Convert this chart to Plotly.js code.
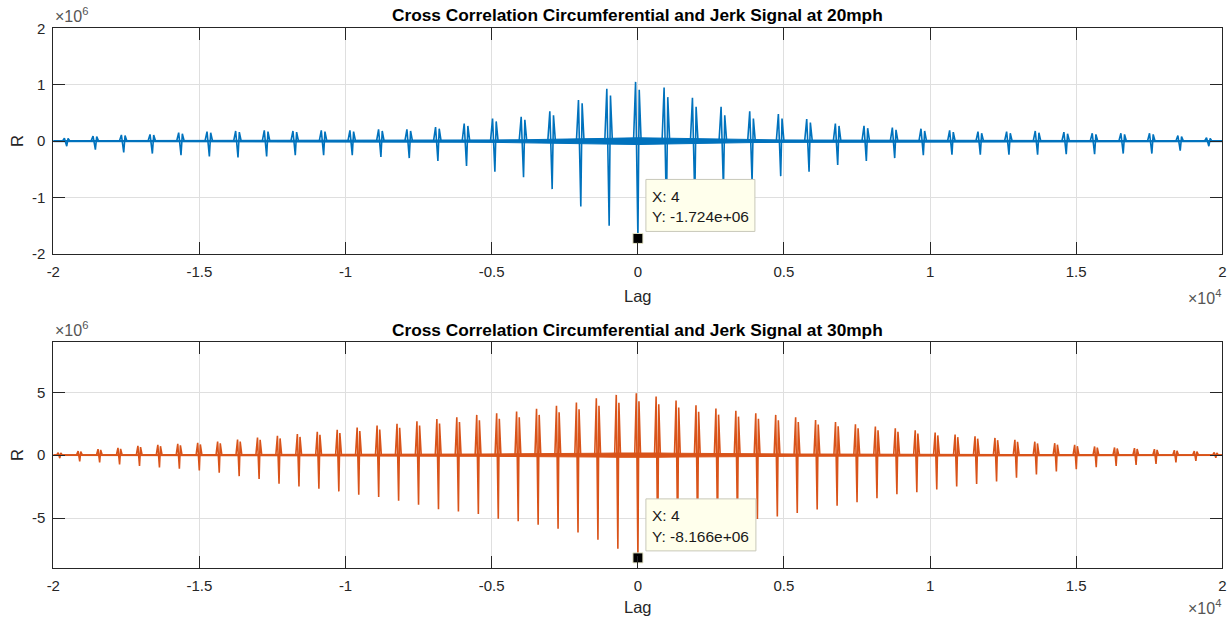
<!DOCTYPE html>
<html>
<head>
<meta charset="utf-8">
<script src="https://cdn.plot.ly/plotly-3.0.1.min.js"></script>
<style>html,body{margin:0;padding:0;background:#fff;}#chart{width:1230px;height:621px;}</style>
</head>
<body>
<div id="chart"></div>
<script>
// ---------- DATA (values in units of 1e6, lags in samples) ----------
const titles = ["Cross Correlation Circumferential and Jerk Signal at 20mph",
                "Cross Correlation Circumferential and Jerk Signal at 30mph"];
const xTickVals = [-20000,-15000,-10000,-5000,0,5000,10000,15000,20000];
const xTickText = ["-2","-1.5","-1","-0.5","0","0.5","1","1.5","2"];
const yTickValsTop = [-2e6,-1e6,0,1e6,2e6];
const yTickTextTop = ["-2","-1","0","1","2"];
const yTickValsBot = [-5e6,0,5e6];
const yTickTextBot = ["-5","0","5"];

// 20 mph: spike lags and peak values
const lags20 = [-19540,-18560,-17590,-16610,-15630,-14660,-13680,-12700,-11720,-10750,-9770,-8790,-7820,-6840,-5860,-4890,-3910,-2930,-1950,-980,
                4,980,1950,2930,3910,4890,5860,6840,7820,8790,9770,10750,11720,12700,13680,14660,15630,16610,17590,18560,19540];
const pos20 = [0.05,0.09,0.11,0.12,0.15,0.17,0.18,0.19,0.18,0.19,0.19,0.21,0.21,0.25,0.31,0.40,0.43,0.53,0.73,0.93,
               1.05,0.95,0.77,0.61,0.53,0.48,0.39,0.31,0.27,0.24,0.22,0.19,0.17,0.17,0.18,0.16,0.14,0.14,0.14,0.10,0.06];
const pos2_20 = [0.05,0.08,0.10,0.11,0.13,0.15,0.16,0.17,0.16,0.17,0.17,0.18,0.18,0.22,0.27,0.35,0.38,0.46,0.67,0.81,
                 0.91,0.78,0.61,0.46,0.40,0.40,0.33,0.27,0.23,0.20,0.18,0.16,0.14,0.14,0.15,0.13,0.12,0.12,0.12,0.08,0.05];
const neg20 = [-0.09,-0.15,-0.20,-0.22,-0.25,-0.27,-0.29,-0.27,-0.25,-0.25,-0.25,-0.28,-0.30,-0.35,-0.44,-0.54,-0.64,-0.85,-1.16,-1.50,
               -1.724,-1.30,-1.05,-0.85,-0.72,-0.62,-0.54,-0.42,-0.35,-0.30,-0.25,-0.24,-0.24,-0.24,-0.24,-0.23,-0.23,-0.22,-0.22,-0.17,-0.09];
const noise20 = [0.01,0.01,0.01,0.01,0.01,0.012,0.012,0.014,0.014,0.014,0.015,0.016,0.018,0.018,0.02,0.022,0.025,0.03,0.04,0.05,
                 0.06,0.05,0.04,0.03,0.025,0.022,0.02,0.018,0.018,0.016,0.015,0.014,0.014,0.014,0.012,0.012,0.01,0.01,0.01,0.01,0.01];

// 30 mph
const lags30 = [-19778,-19096,-18414,-17732,-17050,-16368,-15686,-15004,-14322,-13640,-12958,-12276,-11594,-10912,-10230,-9548,-8866,-8184,-7502,-6820,-6138,-5456,-4774,-4092,-3410,-2728,-2046,-1364,-682,
                4,682,1364,2046,2728,3410,4092,4774,5456,6138,6820,7502,8184,8866,9548,10230,10912,11594,12276,12958,13640,14322,15004,15686,16368,17050,17732,18414,19096,19778];
const pos30 = [0.20,0.32,0.48,0.58,0.74,0.82,0.90,0.98,1.08,1.24,1.40,1.53,1.67,1.85,2.01,2.20,2.35,2.49,2.70,2.88,3.02,3.20,3.33,3.47,3.68,3.92,4.18,4.52,4.79,
               4.92,4.66,4.34,3.97,3.70,3.52,3.33,3.20,3.02,2.80,2.64,2.45,2.28,2.14,1.98,1.80,1.64,1.50,1.37,1.22,1.07,0.95,0.82,0.69,0.61,0.56,0.48,0.40,0.32,0.21];
const pos2_30 = [0.17,0.28,0.42,0.50,0.64,0.71,0.78,0.85,0.94,1.08,1.22,1.33,1.45,1.61,1.75,1.91,2.04,2.17,2.35,2.51,2.63,2.78,2.90,3.02,3.20,3.41,3.64,3.93,4.17,
                 4.28,4.05,3.78,3.45,3.22,3.06,2.90,2.78,2.63,2.44,2.30,2.13,1.98,1.86,1.72,1.57,1.43,1.31,1.19,1.06,0.93,0.83,0.71,0.60,0.53,0.49,0.42,0.35,0.28,0.18];
const neg30 = [-0.24,-0.50,-0.58,-0.74,-0.85,-0.98,-1.08,-1.22,-1.40,-1.67,-1.90,-2.28,-2.49,-2.67,-2.88,-3.15,-3.33,-3.62,-3.94,-4.29,-4.47,-4.68,-5.05,-5.26,-5.53,-5.85,-6.14,-6.72,-7.43,
               -8.166,-7.3,-6.6,-6.1,-5.8,-5.45,-5.07,-4.87,-4.6,-4.32,-4.02,-3.75,-3.43,-3.11,-2.95,-2.72,-2.49,-2.30,-2.09,-1.80,-1.54,-1.30,-1.11,-0.95,-0.85,-0.77,-0.69,-0.58,-0.45,-0.21];
const noise30 = [0.03,0.03,0.03,0.035,0.035,0.04,0.04,0.045,0.045,0.05,0.05,0.05,0.06,0.06,0.06,0.07,0.07,0.07,0.08,0.08,0.09,0.09,0.1,0.1,0.11,0.12,0.13,0.15,0.17,
                 0.19,0.17,0.15,0.13,0.12,0.11,0.1,0.1,0.09,0.09,0.08,0.08,0.07,0.07,0.07,0.06,0.06,0.06,0.05,0.05,0.05,0.045,0.045,0.04,0.04,0.035,0.035,0.03,0.03,0.03];

// data tips
const tip20 = {x: 4, y: -1.724e6, lines: ["X: 4", "Y: -1.724e+06"]};
const tip30 = {x: 4, y: -8.166e6, lines: ["X: 4", "Y: -8.166e+06"]};

const UNIT = 1e6;
const LAG_MIN = -20000, LAG_MAX = 20000;

// ---------- build ----------
function spikeSeries(lags, pos, neg, pos2, off) {
  const x = [LAG_MIN], y = [0];
  for (let i = 0; i < lags.length; i++) {
    const L = lags[i];
    x.push(L + off.pre, L + off.p1, L, L + off.p2, L + off.post);
    y.push(0, pos[i] * UNIT, neg[i] * UNIT, pos2[i] * UNIT, 0);
  }
  x.push(LAG_MAX); y.push(0);
  return {x, y};
}
function noiseBand(lags, env) {
  const x = [LAG_MIN].concat(lags, [LAG_MAX]);
  const up = [env[0]].concat(env, [env[env.length - 1]]).map(v => v * UNIT);
  const xr = x.slice().reverse();
  const dn = up.slice().reverse().map(v => -v);
  return {x: x.concat(xr), y: up.concat(dn)};
}

const BLUE = '#0072BD', ORANGE = '#D95319';
const s20 = spikeSeries(lags20, pos20, neg20, pos2_20, {pre: -150, p1: -80, p2: 45, post: 110});
const s30 = spikeSeries(lags30, pos30, neg30, pos2_30, {pre: -110, p1: -55, p2: 35, post: 90});
const b20 = noiseBand(lags20, noise20);
const b30 = noiseBand(lags30, noise30);

const traces = [
  {type: 'scatter', mode: 'lines', x: b20.x, y: b20.y, fill: 'toself', fillcolor: BLUE,
   line: {color: BLUE, width: 1}, xaxis: 'x', yaxis: 'y', hoverinfo: 'skip', showlegend: false},
  {type: 'scatter', mode: 'lines', x: s20.x, y: s20.y, line: {color: BLUE, width: 1.6},
   xaxis: 'x', yaxis: 'y', showlegend: false},
  {type: 'scatter', mode: 'lines', x: b30.x, y: b30.y, fill: 'toself', fillcolor: ORANGE,
   line: {color: ORANGE, width: 1}, xaxis: 'x2', yaxis: 'y2', hoverinfo: 'skip', showlegend: false},
  {type: 'scatter', mode: 'lines', x: s30.x, y: s30.y, line: {color: ORANGE, width: 1.6},
   xaxis: 'x2', yaxis: 'y2', showlegend: false},
  {type: 'scatter', mode: 'markers', x: [tip20.x], y: [tip20.y], xaxis: 'x', yaxis: 'y',
   marker: {symbol: 'square', size: 10, color: '#000', line: {color: '#e8e8c8', width: 1}}, showlegend: false},
  {type: 'scatter', mode: 'markers', x: [tip30.x], y: [tip30.y], xaxis: 'x2', yaxis: 'y2',
   marker: {symbol: 'square', size: 10, color: '#000', line: {color: '#e8e8c8', width: 1}}, showlegend: false}
];

const W = 1230, H = 621;
const px = v => v / W, py = v => 1 - v / H;
const FONT = 'Liberation Sans, Arial, Helvetica, sans-serif';
const AX = '#262626', GRID = '#dfdfdf';
const TICKSIZE = 15;

function xAxis(anchor, dom) {
  return {domain: dom, anchor: anchor, range: [LAG_MIN, LAG_MAX], tickmode: 'array',
    tickvals: xTickVals, ticktext: xTickText, showgrid: true, gridcolor: GRID, gridwidth: 1,
    zeroline: false, showline: true, linecolor: AX, linewidth: 1, mirror: 'ticks',
    ticks: 'inside', ticklen: 12, tickwidth: 1, tickcolor: AX, ticklabelstandoff: 4,
    tickfont: {family: FONT, size: TICKSIZE, color: AX}, fixedrange: true};
}
function yAxis(anchor, dom, range, tv, tt) {
  return {domain: dom, anchor: anchor, range: range, tickmode: 'array', tickvals: tv, ticktext: tt,
    showgrid: true, gridcolor: GRID, gridwidth: 1, zeroline: false, showline: true, linecolor: AX,
    linewidth: 1, mirror: 'ticks', ticks: 'inside', ticklen: 12, tickwidth: 1, tickcolor: AX,
    ticklabelstandoff: 4, tickfont: {family: FONT, size: TICKSIZE, color: AX}, fixedrange: true};
}

const xDom = [px(53.3), px(1222.3)];
const tipFont = {family: FONT, size: 15.5, color: '#1a1a1a'};
const expFont = {family: FONT, size: 16, color: '#555'};
const layout = {
  width: W, height: H, margin: {l: 0, r: 0, t: 0, b: 0},
  paper_bgcolor: '#fff', plot_bgcolor: '#fff', showlegend: false,
  xaxis: xAxis('y', xDom),
  yaxis: yAxis('x', [py(254), py(28.3)], [-2e6, 2e6], yTickValsTop, yTickTextTop),
  xaxis2: xAxis('y2', xDom),
  yaxis2: yAxis('x2', [py(568), py(342.3)], [-8.97e6, 8.97e6], yTickValsBot, yTickTextBot),
  shapes: [
    {type: 'rect', xref: 'x', yref: 'y', xsizemode: 'pixel', ysizemode: 'pixel', xanchor: tip20.x, yanchor: tip20.y,
     x0: 8, x1: 117, y0: 7, y1: 59, fillcolor: 'rgb(255,255,236)', line: {color: 'rgb(200,200,185)', width: 1}, layer: 'above'},
    {type: 'rect', xref: 'x2', yref: 'y2', xsizemode: 'pixel', ysizemode: 'pixel', xanchor: tip30.x, yanchor: tip30.y,
     x0: 8, x1: 118, y0: 7, y1: 59, fillcolor: 'rgb(255,255,236)', line: {color: 'rgb(200,200,185)', width: 1}, layer: 'above'}
  ],
  annotations: [
    {text: '<b>' + titles[0] + '</b>', xref: 'paper', yref: 'paper', x: px(637.8), y: py(15), showarrow: false,
     xanchor: 'center', yanchor: 'middle', font: {family: FONT, size: 17.3, color: '#000'}},
    {text: '<b>' + titles[1] + '</b>', xref: 'paper', yref: 'paper', x: px(637.8), y: py(330), showarrow: false,
     xanchor: 'center', yanchor: 'middle', font: {family: FONT, size: 17.3, color: '#000'}},
    {text: 'Lag', xref: 'paper', yref: 'paper', x: px(637.8), y: py(296), showarrow: false,
     xanchor: 'center', yanchor: 'middle', font: {family: FONT, size: 16.5, color: AX}},
    {text: 'Lag', xref: 'paper', yref: 'paper', x: px(637.8), y: py(607), showarrow: false,
     xanchor: 'center', yanchor: 'middle', font: {family: FONT, size: 16.5, color: AX}},
    {text: 'R', xref: 'paper', yref: 'paper', x: px(17), y: py(141), showarrow: false, textangle: -90,
     xanchor: 'center', yanchor: 'middle', font: {family: FONT, size: 16.5, color: AX}},
    {text: 'R', xref: 'paper', yref: 'paper', x: px(17), y: py(455), showarrow: false, textangle: -90,
     xanchor: 'center', yanchor: 'middle', font: {family: FONT, size: 16.5, color: AX}},
    {text: '\u00d710<sup>6</sup>', xref: 'paper', yref: 'paper', x: px(53), y: py(27), showarrow: false,
     xanchor: 'left', yanchor: 'bottom', font: expFont},
    {text: '\u00d710<sup>6</sup>', xref: 'paper', yref: 'paper', x: px(53), y: py(341), showarrow: false,
     xanchor: 'left', yanchor: 'bottom', font: expFont},
    {text: '\u00d710<sup>4</sup>', xref: 'paper', yref: 'paper', x: px(1223), y: py(297), showarrow: false,
     xanchor: 'right', yanchor: 'middle', font: expFont},
    {text: '\u00d710<sup>4</sup>', xref: 'paper', yref: 'paper', x: px(1223), y: py(607), showarrow: false,
     xanchor: 'right', yanchor: 'middle', font: expFont},
    // data tips text
    {text: tip20.lines[0], xref: 'x', yref: 'y', x: tip20.x, y: tip20.y, xshift: 12, yshift: 42, showarrow: false,
     xanchor: 'left', yanchor: 'middle', font: tipFont},
    {text: tip20.lines[1], xref: 'x', yref: 'y', x: tip20.x, y: tip20.y, xshift: 12, yshift: 22, showarrow: false,
     xanchor: 'left', yanchor: 'middle', font: tipFont},
    {text: tip30.lines[0], xref: 'x2', yref: 'y2', x: tip30.x, y: tip30.y, xshift: 12, yshift: 42, showarrow: false,
     xanchor: 'left', yanchor: 'middle', font: tipFont},
    {text: tip30.lines[1], xref: 'x2', yref: 'y2', x: tip30.x, y: tip30.y, xshift: 12, yshift: 21, showarrow: false,
     xanchor: 'left', yanchor: 'middle', font: tipFont}
  ]
};

Plotly.newPlot('chart', traces, layout, {displayModeBar: false, staticPlot: true});
</script>
</body>
</html>
